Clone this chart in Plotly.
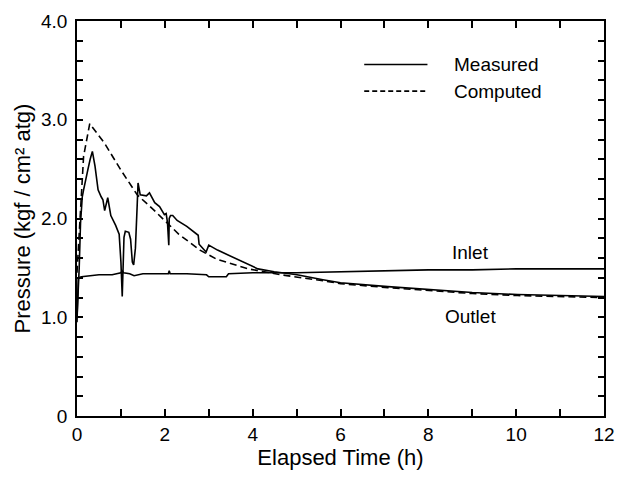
import plotly.graph_objects as go

# Outlet (measured)
outlet_t = [0.0, 0.02, 0.05, 0.08, 0.12, 0.15, 0.2, 0.25, 0.3, 0.35, 0.41, 0.48, 0.55, 0.59, 0.63, 0.70,
            0.77, 0.88, 0.96, 1.0, 1.03, 1.05, 1.07, 1.10, 1.18, 1.22, 1.26, 1.29, 1.33, 1.37, 1.39,
            1.44, 1.58, 1.65, 1.77, 1.88, 1.99, 2.03, 2.06, 2.09, 2.10, 2.13, 2.18, 2.28, 2.50, 2.76,
            2.78, 2.94, 3.0, 3.2, 3.53, 3.83, 4.12, 4.49, 5.01, 5.6, 6.0, 7.08, 8.0, 8.55, 9.0,
            10.03, 11.0, 12.0]
outlet_p = [1.0, 1.15, 1.50, 1.95, 2.22, 2.29, 2.38, 2.50, 2.60, 2.68, 2.53, 2.29, 2.22, 2.19, 2.08, 2.21,
            2.03, 1.93, 1.84, 1.56, 1.21, 1.50, 1.81, 1.87, 1.86, 1.79, 1.56, 1.53, 1.70, 2.13, 2.36,
            2.24, 2.23, 2.26, 2.16, 2.12, 2.04, 2.05, 1.96, 1.73, 2.00, 2.03, 2.03, 1.98, 1.92, 1.83,
            1.74, 1.66, 1.73, 1.68, 1.61, 1.55, 1.49, 1.46, 1.43, 1.38, 1.35, 1.31, 1.28, 1.26, 1.25,
            1.23, 1.22, 1.21]

# Inlet (measured)
inlet_t = [0.0, 0.03, 0.1, 0.3, 0.5, 0.8, 1.0, 1.03, 1.06, 1.2, 1.3, 1.5, 2.0, 2.08, 2.1, 2.12, 2.5,
           2.95, 3.0, 3.4, 3.45, 4.0, 5.0, 6.0, 7.0, 8.0, 9.0, 10.0, 11.0, 12.0]
inlet_p = [0.95, 1.40, 1.41, 1.42, 1.43, 1.43, 1.45, 1.47, 1.45, 1.44, 1.42, 1.44, 1.44, 1.44, 1.47, 1.44, 1.44,
           1.43, 1.41, 1.41, 1.44, 1.45, 1.45, 1.46, 1.47, 1.48, 1.48, 1.49, 1.49, 1.49]

# Computed
comp_t = [0.0, 0.05, 0.1, 0.15, 0.29, 0.63, 1.0, 1.37, 1.74, 2.11, 2.32, 2.80, 3.17, 3.90, 4.64,
          5.6, 6.0, 7.08, 8.0, 8.55, 9.0, 10.03, 11.0, 12.0]
comp_p = [1.45, 1.85, 2.29, 2.63, 2.96, 2.76, 2.49, 2.24, 2.09, 1.93, 1.84, 1.68, 1.59, 1.49, 1.43,
          1.37, 1.34, 1.30, 1.27, 1.25, 1.24, 1.22, 1.21, 1.20]

x_ticks = list(range(0, 13))
x_labels = [str(v) if v % 2 == 0 else "" for v in x_ticks]
y_ticks = [round(0.2 * i, 1) for i in range(21)]
y_labels = {0.0: "0", 1.0: "1.0", 2.0: "2.0", 3.0: "3.0", 4.0: "4.0"}
y_text = [y_labels.get(v, "") for v in y_ticks]

FONT = "Liberation Sans, Arial, sans-serif"
line_w = 1.6

fig = go.Figure()
fig.add_trace(go.Scatter(x=inlet_t, y=inlet_p, mode="lines", name="Inlet",
                         line=dict(color="black", width=line_w), showlegend=False))
fig.add_trace(go.Scatter(x=comp_t, y=comp_p, mode="lines", name="Computed",
                         line=dict(color="black", width=line_w, dash="7px,4px"), showlegend=False))
fig.add_trace(go.Scatter(x=outlet_t, y=outlet_p, mode="lines", name="Measured",
                         line=dict(color="black", width=line_w), showlegend=False))

# legend key
fig.add_shape(type="line", xref="paper", yref="paper", x0=0.545, x1=0.665, y0=0.89, y1=0.89,
              line=dict(color="black", width=line_w))
fig.add_shape(type="line", xref="paper", yref="paper", x0=0.545, x1=0.665, y0=0.8225, y1=0.8225,
              line=dict(color="black", width=line_w, dash="5px,3px"))
fig.add_annotation(text="Measured", xref="paper", yref="paper", x=0.712, y=0.89, xanchor="left",
                   yanchor="middle", showarrow=False, font=dict(size=19, family=FONT, color="black"))
fig.add_annotation(text="Computed", xref="paper", yref="paper", x=0.712, y=0.8225, xanchor="left",
                   yanchor="middle", showarrow=False, font=dict(size=19, family=FONT, color="black"))

fig.add_annotation(text="Inlet", x=8.95, y=1.66, showarrow=False,
                   font=dict(size=19, family=FONT, color="black"))
fig.add_annotation(text="Outlet", x=8.97, y=1.01, showarrow=False,
                   font=dict(size=19, family=FONT, color="black"))

fig.update_xaxes(range=[0, 12], tickmode="array", tickvals=x_ticks, ticktext=x_labels,
                 ticks="inside", ticklen=7, tickwidth=1.5, tickcolor="black",
                 showline=True, linecolor="black", linewidth=1.6, mirror="ticks",
                 showgrid=False, zeroline=False, ticklabeloverflow="allow",
                 tickfont=dict(size=19, family=FONT, color="black"),
                 title=dict(text="Elapsed Time (h)", font=dict(size=22, family=FONT, color="black"),
                            standoff=6))
fig.update_yaxes(range=[0, 4], tickmode="array", tickvals=y_ticks, ticktext=y_text,
                 ticks="inside", ticklen=6, tickwidth=1.5, tickcolor="black",
                 showline=True, linecolor="black", linewidth=1.6, mirror="ticks",
                 showgrid=False, zeroline=False, ticklabelstandoff=4, ticklabeloverflow="allow",
                 tickfont=dict(size=19, family=FONT, color="black"),
                 title=dict(text="Pressure (kgf / cm² atg)", font=dict(size=22, family=FONT, color="black"),
                            standoff=4))

fig.update_layout(width=626, height=477, margin=dict(l=77, r=11, t=16, b=61),
                  plot_bgcolor="white", paper_bgcolor="white", showlegend=False)

fig.write_html("out.html", config={"displayModeBar": False},
               post_script="document.body.style.margin='0';")
